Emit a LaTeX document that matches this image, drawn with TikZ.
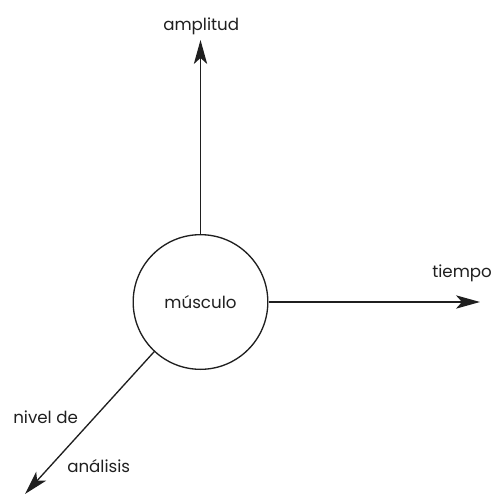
\documentclass[tikz,border=0pt]{standalone}
\usepackage{fontspec}
\setmainfont{Poppins}
\usetikzlibrary{arrows.meta}
\begin{document}
\begin{tikzpicture}[x=0.75pt,y=-0.75pt,
  axis/.style={line width=1pt, draw=black!88, -{Stealth[length=18pt,width=10pt,inset=4.5pt]}},
  lbl/.style={font=\fontsize{12.5}{15}\selectfont, text=black!88, inner sep=0pt, anchor=base west},
  hub/.style={circle, draw=black!88, line width=1pt, minimum size=101pt, inner sep=0pt, font=\fontsize{12.5}{15}\selectfont, text=black!88}]
  \useasboundingbox (0,0) rectangle (494,496);
  % central node and the three axis end points
  \node[hub] (m) at (200.5,302) {músculo};
  \coordinate (up) at (200.5,40);
  \coordinate (right) at (480,302);
  \coordinate (down) at (25,494);
  % axes
  \draw[axis] (m.north) -- (up);
  \draw[axis] (m.east) -- (right);
  \draw[axis] (m.227.6) -- (down);
  % axis labels
  \node[lbl] (amp) at (163,30) {amplitud};
  \node[lbl] (tie) at (432,277) {tiempo};
  \node[lbl] (niv) at (13,423) {nivel de};
  \node[lbl] (ana) at (67,472) {análisis};
\end{tikzpicture}
\end{document}
